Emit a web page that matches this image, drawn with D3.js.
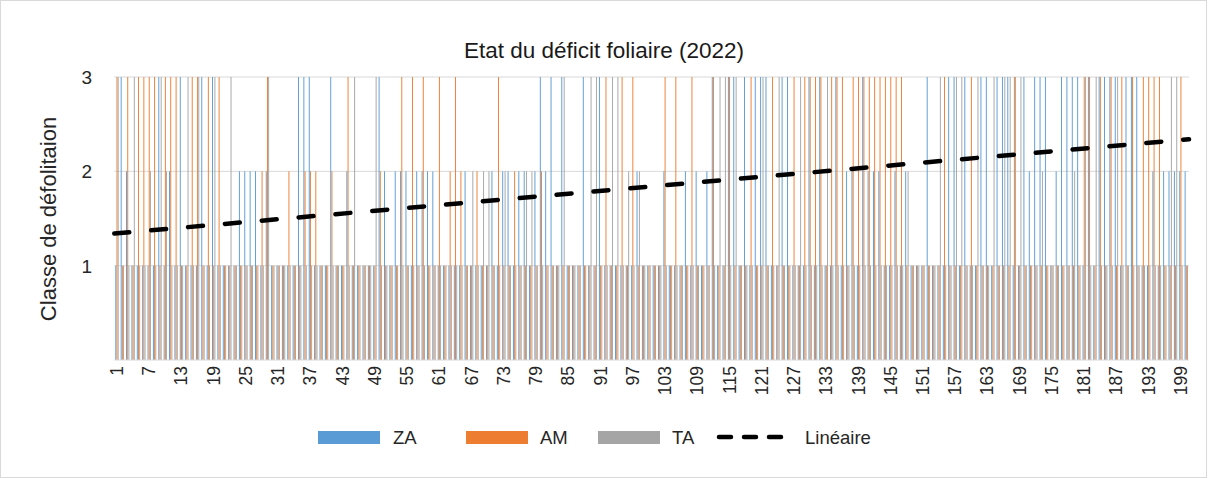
<!DOCTYPE html>
<html><head><meta charset="utf-8">
<script src="https://cdn.jsdelivr.net/npm/d3@7"></script>
<style>body{margin:0;background:#fff}svg{display:block}</style>
</head><body>
<svg id="chart" width="1213" height="478"></svg>
<script>
// ---------- data ----------
const categories = d3.range(1, 201);
const seriesNames = ["ZA", "AM", "TA"];
const seriesColors = ["#5B9BD5", "#ED7D31", "#A5A5A5"];
const ZA = [1,3,2,1,1,1,1,1,3,1, 2,1,3,1,1,1,3,1,3,1, 1,1,1,2,2,2,2,1,2,1, 1,1,1,1,3,3,3,1,1,1,
            3,1,1,2,1,1,1,1,1,3, 2,1,2,2,2,1,2,2,2,2, 1,1,1,1,1,2,1,1,1,1, 2,1,2,2,1,2,2,1,2,3,
            2,3,1,3,1,1,1,3,1,1, 3,1,1,1,1,1,1,2,1,1, 1,1,2,1,1,1,2,1,2,1, 2,3,1,1,3,3,1,3,1,3,
            3,3,1,1,3,3,1,1,1,3, 1,3,1,1,3,1,2,2,1,3, 2,2,2,1,1,2,1,2,1,1, 1,3,1,1,1,3,3,1,3,1,
            1,3,3,1,3,3,3,1,1,3, 2,3,3,3,1,2,3,3,3,3, 1,3,1,3,3,3,3,1,3,3, 3,1,1,2,1,2,2,2,2,2];
const AM = [3,1,3,1,3,3,3,3,1,3, 3,3,1,1,3,3,1,3,1,3, 1,1,1,1,1,1,1,2,3,1, 1,1,2,1,1,2,2,2,1,1,
            2,1,1,3,1,1,1,1,1,2, 1,1,1,3,1,3,1,3,1,1, 3,1,2,3,2,1,1,2,1,1, 1,3,1,1,2,1,1,1,1,2,
            1,1,1,1,1,1,1,1,1,1, 1,3,1,1,3,1,3,1,1,1, 1,1,3,1,3,1,1,3,1,1, 1,3,1,1,3,1,1,1,3,1,
            1,1,3,1,1,1,3,1,3,3, 3,3,1,3,3,3,1,3,3,3, 3,3,3,3,3,3,3,1,1,1, 1,1,1,1,3,1,1,1,1,3,
            1,1,1,1,1,1,1,3,1,1, 1,1,1,1,1,1,1,1,1,1, 3,3,1,3,1,3,1,3,1,3, 1,3,3,3,3,1,1,1,3,1];
const TA = [3,1,1,3,1,1,2,1,3,2, 1,1,1,3,1,3,1,1,3,1, 1,3,1,1,1,1,1,1,3,1, 1,1,1,1,1,1,1,1,1,1,
            1,1,1,1,3,1,1,1,3,1, 1,1,1,1,1,1,1,1,1,1, 1,1,1,1,1,1,2,1,2,2, 1,1,2,1,1,1,2,2,1,1,
            1,1,1,3,1,1,1,1,3,3, 1,1,3,3,1,2,1,2,1,1, 1,1,1,1,1,1,1,1,1,1, 1,1,3,3,1,3,1,1,1,1,
            3,1,1,3,1,1,1,3,1,1, 1,1,3,1,1,1,1,1,1,1, 1,1,1,1,1,1,1,2,1,1, 1,1,1,3,1,1,3,3,1,1,
            3,1,1,3,1,3,3,3,3,1, 1,1,2,1,1,1,1,1,2,1, 3,1,3,1,1,1,3,1,1,1, 1,1,1,1,1,1,3,3,1,1];
const seriesValues = [ZA, AM, TA];
const xTickLabels = [1,7,13,19,25,31,37,43,49,55,61,67,73,79,85,91,97,103,109,115,121,127,133,139,145,151,157,163,169,175,181,187,193,199];
const yTickLabels = [1, 2, 3];
const trendEnds = [1.34, 2.34];   // "Linéaire" at left and right edges of the plot
const titleText = "Etat du déficit foliaire (2022)";
const yTitle = "Classe de défolitaion";

// ---------- layout ----------
const W = 1213, H = 478;
const plot = {left: 114.3, right: 1189, top: 77, bottom: 360};
const font = "'Liberation Sans', Arial, sans-serif";
const textColor = "#262626";
const gridColor = "#d9d9d9";

const svg = d3.select("#chart");
svg.append("rect").attr("x", 0.5).attr("y", 0.5).attr("width", 1206).attr("height", H - 1)
  .attr("fill", "#fff").attr("stroke", gridColor);

const x0 = d3.scaleBand().domain(categories).range([plot.left, plot.right])
  .paddingInner(0.38).paddingOuter(0.19);
const x1 = d3.scaleBand().domain(seriesNames).range([0, x0.bandwidth()]).paddingInner(0.21);
const y = d3.scaleLinear().domain([0, 3]).range([plot.bottom, plot.top]);

// gridlines
svg.append("g").selectAll("line").data(yTickLabels).join("line")
  .attr("x1", plot.left).attr("x2", plot.right)
  .attr("y1", d => y(d)).attr("y2", d => y(d))
  .attr("stroke", gridColor).attr("stroke-width", 1);

// bars
const rows = [];
categories.forEach((c, i) => seriesNames.forEach((s, j) => rows.push({c, s, v: seriesValues[j][i], color: seriesColors[j]})));
svg.append("g").selectAll("rect").data(rows).join("rect")
  .attr("x", d => x0(d.c) + x1(d.s))
  .attr("width", x1.bandwidth())
  .attr("y", d => y(d.v))
  .attr("height", d => y(0) - y(d.v))
  .attr("fill", d => d.color);

// x axis baseline
svg.append("line").attr("x1", plot.left).attr("x2", plot.right)
  .attr("y1", y(0)).attr("y2", y(0)).attr("stroke", gridColor).attr("stroke-width", 1);

// x tick labels (rotated)
svg.append("g").selectAll("text").data(xTickLabels).join("text")
  .attr("transform", d => `translate(${x0(d) + x0.bandwidth() / 2 + 6},${y(0) + 6}) rotate(-90)`)
  .attr("text-anchor", "end")
  .attr("font-family", font).attr("font-size", 17.5).attr("fill", textColor)
  .text(d => d);

// y tick labels
svg.append("g").selectAll("text").data(yTickLabels).join("text")
  .attr("x", 92).attr("y", d => y(d) + 7)
  .attr("text-anchor", "end")
  .attr("font-family", font).attr("font-size", 19).attr("fill", textColor)
  .text(d => d);

// trendline
const xt = d3.scaleLinear().domain([0, 1]).range([plot.left, plot.right]);
svg.append("path")
  .datum(trendEnds)
  .attr("d", d3.line().x((d, i) => xt(i)).y(d => y(d)))
  .attr("fill", "none").attr("stroke", "#000").attr("stroke-width", 4.5)
  .attr("stroke-dasharray", "15,22").attr("stroke-linecap", "round");

// title
svg.append("text").attr("x", 604).attr("y", 58).attr("text-anchor", "middle")
  .attr("font-family", font).attr("font-size", 22.5).attr("fill", "#1a1a1a").text(titleText);

// y title
svg.append("text").attr("transform", "translate(56,219) rotate(-90)").attr("text-anchor", "middle")
  .attr("font-family", font).attr("font-size", 22).attr("fill", textColor).text(yTitle);

// legend
const legendItems = [
  {name: "ZA", color: seriesColors[0], sx: 318, tx: 393},
  {name: "AM", color: seriesColors[1], sx: 466, tx: 540},
  {name: "TA", color: seriesColors[2], sx: 598, tx: 672}
];
const lg = svg.append("g");
legendItems.forEach(it => {
  lg.append("rect").attr("x", it.sx).attr("y", 431).attr("width", 62).attr("height", 13).attr("fill", it.color);
  lg.append("text").attr("x", it.tx).attr("y", 444).attr("font-family", font).attr("font-size", 18.5)
    .attr("fill", textColor).text(it.name);
});
lg.append("line").attr("x1", 719).attr("x2", 789).attr("y1", 437).attr("y2", 437)
  .attr("stroke", "#000").attr("stroke-width", 4.5).attr("stroke-dasharray", "12,13").attr("stroke-linecap", "round");
lg.append("text").attr("x", 805).attr("y", 444).attr("font-family", font).attr("font-size", 18.5)
  .attr("fill", textColor).text("Linéaire");
</script>
</body></html>
